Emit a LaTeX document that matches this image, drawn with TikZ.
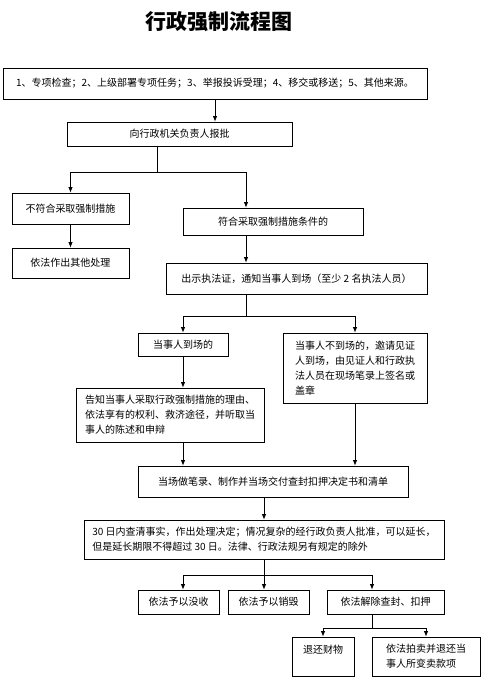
\documentclass[tikz,border=0pt]{standalone}
\usepackage{fontspec}
\newfontfamily\cjk{Noto Sans CJK SC}
\usetikzlibrary{arrows.meta}
\begin{document}
\begin{tikzpicture}[x=1pt,y=-1pt,
  box/.style={draw,line width=0.8pt,inner sep=0pt,align=left,
    font=\cjk\fontsize{10}{15}\selectfont},
  link/.style={line width=0.8pt},
  flow/.style={line width=0.8pt,-{Latex[length=5.5pt,width=4.5pt]}}]
\useasboundingbox (0,0) rectangle (486,691);
\node[font=\cjk\bfseries\fontsize{21}{24}\selectfont] (title) at (219,22) {行政强制流程图};
% boxes: centre, width, height
\node[box,minimum width=424pt,minimum height=31pt] (src) at (215,83.5)
  {1、专项检查；2、上级部署专项任务；3、举报投诉受理；4、移交或移送；5、其他来源。};
\node[box,minimum width=225pt,minimum height=24pt] (report) at (179.5,134) {向行政机关负责人报批};
\node[box,minimum width=117pt,minimum height=31pt] (nomeet) at (70.5,208.5) {不符合采取强制措施};
\node[box,minimum width=117pt,minimum height=30pt] (other) at (70.5,263) {依法作出其他处理};
\node[box,minimum width=180pt,minimum height=27pt] (meet) at (273,221.5) {符合采取强制措施条件的};
\node[box,minimum width=261pt,minimum height=31pt] (show) at (296.5,278.5)
  {出示执法证，通知当事人到场（至少 2 名执法人员）};
\node[box,minimum width=90pt,minimum height=23pt] (present) at (183,344.5) {当事人到场的};
\node[box,minimum width=144pt,minimum height=70pt] (absent) at (355,368)
  {当事人不到场的，邀请见证\\人到场，由见证人和行政执\\法人员在现场笔录上签名或\\盖章};
\node[box,minimum width=188pt,minimum height=54pt] (inform) at (170,415)
  {告知当事人采取行政强制措施的理由、\\依法享有的权利、救济途径，并听取当\\事人的陈述和申辩};
\node[box,minimum width=270pt,minimum height=31pt] (record) at (273,481.5)
  {当场做笔录、制作并当场交付查封扣押决定书和清单};
\node[box,minimum width=360pt,minimum height=39pt] (decide) at (264,539.5)
  {30 日内查清事实，作出处理决定；情况复杂的经行政负责人批准，可以延长，\\但是延长期限不得超过 30 日。法律、行政法规另有规定的除外};
\foreach \n/\x/\w/\t in {confisc/178.5/81/依法予以没收,destroy/268.5/81/依法予以销毁,
  release/385.5/117/依法解除查封、扣押}
  \node[box,minimum width=\w pt,minimum height=24pt] (\n) at (\x,602) {\t};
\node[box,minimum width=62pt,minimum height=39pt] (giveback) at (323,656.5) {退还财物\\\mbox{}};
\node[box,minimum width=108pt,minimum height=39pt] (auction) at (426,656.5)
  {依法拍卖并退还当\\事人所变卖款项};
% connectors
\draw[flow] (src.south) -- (src.south |- report.north);
\coordinate (k1) at ([xshift=-22.5pt,yshift=-26pt]report.south);
\draw[link] (report.south -| k1) -- (k1);
\draw[flow] (k1) -| (nomeet.north);
\draw[flow] (k1) -| ([xshift=-27pt]meet.north);
\draw[flow] (nomeet) -- (other);
\draw[flow] ([xshift=-27pt]meet.south) -- ([xshift=-27pt]meet.south |- show.north);
\coordinate (k2) at ([xshift=-50.5pt,yshift=-22pt]show.south);
\draw[link] (k2 |- show.south) -- (k2);
\draw[flow] (k2) -| (present.north);
\draw[flow] (k2) -| (absent.north);
\draw[flow] (present) -- (present |- inform.north);
\draw[flow] (present |- inform.south) -- (present |- record.north);
\draw[flow] (absent) -- (absent |- record.north);
\draw[flow] (decide.north |- record.south) -- (decide.north);
\coordinate (k3) at ([yshift=-16pt]decide.south);
\draw[link] (decide.south) -- (k3);
\draw[flow] (k3) -| ([xshift=4.5pt]confisc.north);
\draw[flow] (k3) -- (k3 |- destroy.north);
\draw[flow] (k3) -| ([xshift=-13.5pt]release.north);
\coordinate (k4) at ([xshift=-13.5pt,yshift=-14pt]release.south);
\draw[link] (k4 |- release.south) -- (k4);
\draw[flow] (k4) -| (giveback.north);
\draw[flow] (k4) -| (auction.north);
\end{tikzpicture}
\end{document}
